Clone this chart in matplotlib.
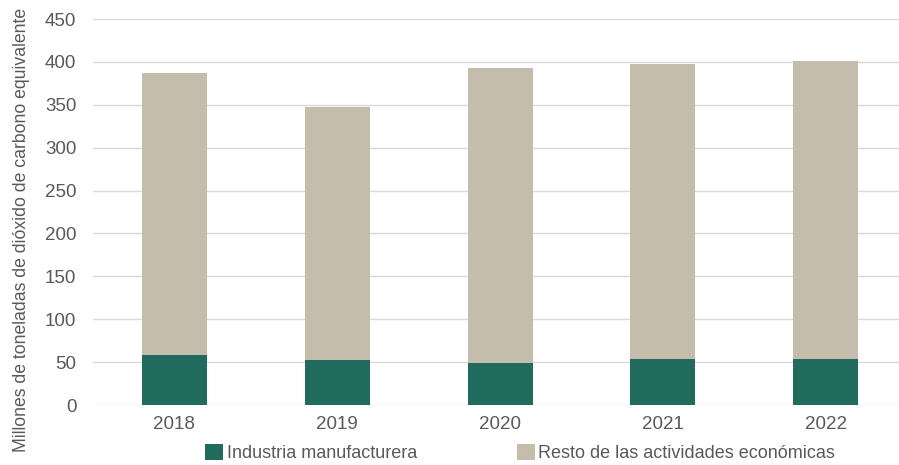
import matplotlib.pyplot as plt
from matplotlib import font_manager
import numpy as np

# fuente condensada si existe
nombres = {f.name for f in font_manager.fontManager.ttflist}
fuente = 'Liberation Sans Narrow' if 'Liberation Sans Narrow' in nombres else 'Liberation Sans'
plt.rcParams['font.family'] = [fuente, 'DejaVu Sans']

# datos
anios = ['2018', '2019', '2020', '2021', '2022']
industria = [58, 52, 48.5, 54, 54]
total = [387, 347.5, 393, 397.5, 400.5]
resto = [t - i for t, i in zip(total, industria)]

color_ind = '#216B5E'
color_resto = '#C4BDAB'
color_texto = '#595959'

fig = plt.figure(figsize=(8.99, 4.65), dpi=100)
ax = fig.add_axes([93 / 899, 60 / 465, 806 / 899, 386 / 465])

x = np.arange(len(anios))
ax.bar(x, industria, width=0.4, color=color_ind, label='Industria manufacturera', zorder=3)
ax.bar(x, resto, width=0.4, bottom=industria, color=color_resto,
       label='Resto de las actividades económicas', zorder=3)

ax.set_xlim(-0.5, 4.45)
ax.set_ylim(0, 450)
ax.set_yticks(range(0, 451, 50))
ax.set_xticks(x)
ax.set_xticklabels(anios)
ax.grid(axis='y', color='#D9D9D9', linewidth=1, zorder=0)
ax.tick_params(axis='both', length=0, labelsize=13.5, colors=color_texto, pad=8)
ax.tick_params(axis='y', pad=12)
for s in ax.spines.values():
    s.set_visible(False)

ax.set_ylabel('Millones de toneladas de dióxido de carbono equivalente',
              fontsize=12.7, color=color_texto, labelpad=10)
ax.yaxis.set_label_coords(-0.078, 0.453)

leg = ax.legend(loc='upper center', bbox_to_anchor=(0.53, -0.058), ncol=2, frameon=False,
                fontsize=13, handlelength=1.0, handleheight=1.0, handletextpad=0.2,
                columnspacing=5.5, labelcolor=color_texto)

plt.savefig('out.png', dpi=100)
